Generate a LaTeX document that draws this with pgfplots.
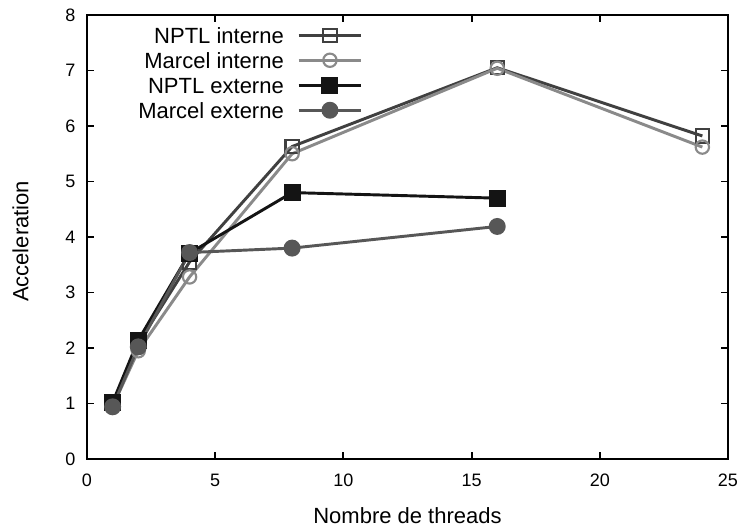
\documentclass[border=0pt]{standalone}
\usepackage{pgfplots}
\pgfplotsset{compat=1.18}
\usepackage{fontspec}
\setmainfont{Liberation Sans}
\definecolor{cA}{HTML}{404040}
\definecolor{cB}{HTML}{8A8A8A}
\definecolor{cC}{HTML}{141414}
\definecolor{cD}{HTML}{575757}
\begin{document}
\begin{tikzpicture}
\begin{axis}[
  at={(0,0)}, anchor=origin,
  scale only axis,
  width=480.75pt, height=333pt,
  xmin=0, xmax=25, ymin=0, ymax=8,
  xtick={0,5,10,15,20,25}, ytick={0,1,...,8},
  tick align=inside, major tick length=5.5pt,
  xtick pos=both, ytick pos=both,
  axis line style={line width=1.4pt},
  every tick/.style={line width=1.4pt, black},
  /pgf/number format/assume math mode=true,
  ticklabel style={font=\fontsize{13.5}{16}\selectfont},
  yticklabel style={xshift=-5.25pt},
  xticklabel style={yshift=-8pt},
  label style={font=\fontsize{16.5}{19}\selectfont},
  xlabel={Nombre de threads}, ylabel={Acceleration},
  xlabel style={at={(axis description cs:0.5,-0.128)}, anchor=center},
  ylabel style={at={(axis description cs:-0.1037,0.49)}, anchor=center},
  legend style={draw=none, fill=none, at={(axis description cs:0.4306,0.973)}, anchor=north east,
    font=\fontsize{16.5}{19}\selectfont, row sep=6.75pt, inner sep=0pt,
    /tikz/column sep=10pt,
    nodes={inner sep=0pt, text height=12pt, text depth=0pt}},
  legend cell align=right, legend plot pos=right,
  legend image code/.code={\draw[mark repeat=2,mark phase=2] plot coordinates {(0pt,0pt)(23.5pt,0pt)(47pt,0pt)};},
  every axis plot/.append style={line width=2.2pt},
]
\addplot[color=cA, mark=square, mark size=5pt, mark options={line width=1.6pt}] coordinates {
(1,1.0) (2,2.08) (4,3.55) (8,5.63) (16,7.05) (24,5.82)};
\addlegendentry{NPTL interne}
\addplot[color=cB, mark=o, mark size=5pt, mark options={line width=1.6pt}] coordinates {
(1,0.95) (2,1.95) (4,3.28) (8,5.5) (16,7.04) (24,5.62)};
\addlegendentry{Marcel interne}
\addplot[color=cC, mark=square*, mark size=5.25pt] coordinates {
(1,1.02) (2,2.14) (4,3.71) (8,4.8) (16,4.7)};
\addlegendentry{NPTL externe}
\addplot[color=cD, mark=*, mark size=5.25pt] coordinates {
(1,0.94) (2,2.02) (4,3.72) (8,3.8) (16,4.19)};
\addlegendentry{Marcel externe}
\end{axis}
\pgfresetboundingbox
\useasboundingbox (-65.25pt,-51.75pt) rectangle (495pt,344.25pt);
\end{tikzpicture}
\end{document}
